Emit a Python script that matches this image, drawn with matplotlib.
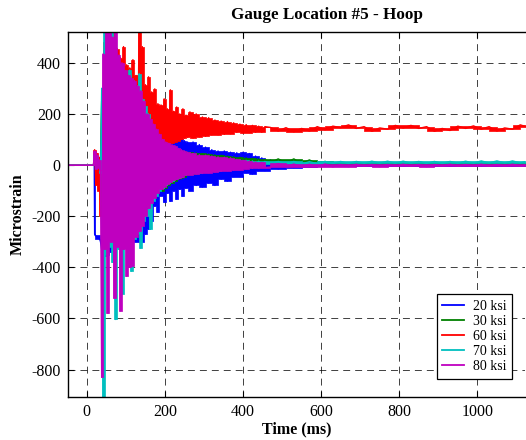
import numpy as np
import matplotlib
matplotlib.use("Agg")
import matplotlib.pyplot as plt

plt.rcParams['font.family'] = ['Liberation Serif', 'DejaVu Serif']
plt.rcParams['axes.unicode_minus'] = False
plt.rcParams['lines.scale_dashes'] = False

# ---------------- data ----------------
labels = ['20 ksi', '30 ksi', '60 ksi', '70 ksi', '80 ksi']
colors = ['#0000FF', '#008000', '#FF0000', '#00BFBF', '#BF00BF']

# early segment (explicit times, ms) -- before the main burst
t_early_blue = [-50, 19, 20, 21, 33, 35]
v_early_blue = [0, 0, -270, -275, -290, -300]
t_early_green = [-50, 20, 25, 30, 35]
v_early_green = [0, 0, 30, -40, 20]
t_early_red = [-50, 17, 20, 23, 26, 29, 32, 35]
v_early_red = [0, 0, 60, -80, 45, -100, 30, -200]
t_early_cyan = [-50, 17, 20, 23, 26, 29, 32, 35]
v_early_cyan = [0, 0, 40, -10, 30, -5, 10, -30]
t_early_mag = [-50, 17, 20, 23, 26, 29, 32, 35]
v_early_mag = [0, 0, 55, -15, 40, -10, 20, -20]

# burst segment: successive extremes every 4 ms from 38 ms
burst_blue = [-330, 200, -357, 300, -350, 350, -340, 350, -330, 320, -320, 300, -320, 280,
              -310, 260, -310, 240, -300, 220, -300, 200, -300, 180, -300, 170, -300, 150,
              -270, 140, -250, 130, -220, 120, -160, 115, -185, 112, -120, 110, -145, 110,
              -110, 108, -141, 105, -100, 110, -133, 100, -95, 100, -122, 95, -90, 90]
burst_green = [250, -250, 350, -300, 380, -280, 350, -260, 330, -250, 300, -240, 280, -230,
               260, -220, 240, -210, 220, -200, 200, -190, 180, -180, 160, -170, 140, -160,
               120, -150, 100, -130, 95, -115, 90, -105, 85, -100, 82, -100, 78, -90,
               75, -80, 70, -70, 66, -62, 62, -56, 58, -50, 55, -45, 52, -40]
burst_red = [200, -300, 480, -250, 560, -200, 520, -220, 560, -150, 455, -120, 420, -100,
             463, -60, 392, -40, 380, -20, 412, 0, 350, 10, 560, 20, 463, 30,
             314, 40, 345, 50, 286, 55, 298, 60, 240, 65, 235, 70, 259, 75,
             220, 80, 294, 85, 210, 90, 227, 95, 200, 100, 220, 105, 195, 108]
burst_cyan = [300, -950, 560, -350, 480, -320, 520, -380, 450, -604, 420, -330, 380, -506,
              360, -300, 340, -330, 372, -415, 320, -290, 300, -270, 357, -325, 260, -220,
              230, -200, 200, -250, 150, -140, 130, -120, 110, -100, 95, -90, 85, -80,
              75, -70, 68, -62, 62, -56, 56, -50, 50, -45, 46, -40, 42, -36]
burst_mag = [-830, 435, -330, 560, -580, 560, -300, 500, -520, 540, -320, 430, -570, 400,
             -330, 370, -435, 350, -400, 340, -395, 330, -280, 310, -260, 290, -240, 250,
             -200, 200, -170, 180, -150, 160, -130, 140, -110, 120, -95, 100, -85, 90,
             -75, 85, -65, 80, -60, 75, -55, 65, -50, 60, -45, 55, -40, 50]

# decay segment: successive extremes every 8 ms from 264 ms
decay_blue = [-100, 90, -80, 80, -86, 70, -70, 60, -80, 55, -55, 55, -63, 50, -45, 48,
              -45, 50, -30, 45, -35, 35, -22, 28, -22]
decay_green = [50, -36, 48, -32, 45, -28, 43, -24, 40, -20, 38, -16, 35, -12, 33, -8,
               30, -4, 28, 0, 26, 2, 24, 4, 22]
decay_red = [208, 105, 200, 110, 188, 112, 185, 118, 176, 118, 172, 120, 170, 122, 165, 128,
             160, 125, 158, 127, 155, 128, 152, 128, 150]
decay_cyan = [34, -32, 32, -30, 30, -28, 28, -25, 27, -22, 25, -19, 23, -16, 21, -12,
              19, -9, 18, -6, 16, -4, 15, -2, 14]
decay_mag = [-38, 45, -35, 40, -33, 38, -30, 35, -28, 32, -25, 30, -22, 28, -20, 22,
             -18, 18, -15, 15, -13, 12, -12, 10, -10]

# late segment: successive extremes every 20 ms from 470 ms
late_blue = [20, -15, 15, -10, 10, -6, 5, -5, 2, -4, 2, -4, 2, -4, 2, -4, 2,
             -4, 2, -4, 2, -4, 2, -4, 2, -4, 2, -4, 2, -4, 2, -4, 2, -4]
late_green = [8, 24, 8, 24, 6, 20, 4, 14, 2, 12, 2, 12, 3, 12, 3, 12, 4,
              13, 4, 13, 4, 12, 3, 12, 4, 13, 4, 13, 4, 12, 3, 12, 4, 12]
late_red = [147, 133, 146, 130, 143, 133, 150, 138, 152, 146, 157, 143, 150, 132, 145, 140, 155,
            145, 155, 143, 150, 132, 143, 135, 152, 143, 153, 140, 150, 133, 145, 140, 157, 147]
late_cyan = [4, 14, 5, 14, 4, 13, 5, 14, 6, 14, 6, 14, 7, 15, 7, 15, 7,
             15, 7, 14, 6, 14, 6, 14, 7, 15, 7, 16, 8, 16, 8, 16, 8, 16]
late_mag = [-8, 6, -7, 4, -8, 3, -6, 4, -7, 2, -6, 3, -5, 2, -6, 2, -5,
            3, -5, 2, -6, 2, -5, 3, -5, 2, -4, 3, -5, 2, -4, 3, -4, 2]

xticks = [0, 200, 400, 600, 800, 1000]
yticks = [-800, -600, -400, -200, 0, 200, 400]


def assemble(t_e, v_e, burst, decay, late):
    t = np.concatenate([np.asarray(t_e, float),
                        38 + 4 * np.arange(len(burst)),
                        264 + 8 * np.arange(len(decay)),
                        470 + 20 * np.arange(len(late))])
    v = np.concatenate([np.asarray(v_e, float), burst, decay, late])
    return t, v


series = [
    assemble(t_early_blue, v_early_blue, burst_blue, decay_blue, late_blue),
    assemble(t_early_green, v_early_green, burst_green, decay_green, late_green),
    assemble(t_early_red, v_early_red, burst_red, decay_red, late_red),
    assemble(t_early_cyan, v_early_cyan, burst_cyan, decay_cyan, late_cyan),
    assemble(t_early_mag, v_early_mag, burst_mag, decay_mag, late_mag),
]

# ---------------- figure ----------------
fig = plt.figure(figsize=(5.26, 4.40), dpi=100)
ax = fig.add_axes([0.1287, 0.0984, 0.8694, 0.830])

for i, ((t, v), c, lab) in enumerate(zip(series, colors, labels)):
    z = 3 + i
    # area swept by the trace between successive extremes
    lo = np.minimum(v[:-1], v[1:])
    hi = np.maximum(v[:-1], v[1:])
    lo = np.append(lo, lo[-1])
    hi = np.append(hi, hi[-1])
    ax.fill_between(t, lo, hi, step='post', facecolor=c, edgecolor=c, lw=0.5, zorder=z)
    ax.plot(t, v, color=c, lw=1.0, label=lab, zorder=z)

ax.set_xlim(-49, 1122)
ax.set_ylim(-906, 522)
ax.set_xticks(xticks)
ax.set_yticks(yticks)
ax.set_axisbelow(True)
ax.grid(True, color='k', lw=0.7, linestyle=(0, (5, 3.6)), alpha=0.75)
ax.tick_params(direction='in', top=True, right=False, length=4, width=0.8,
               labelsize=11.5, pad=5)
for s in ax.spines.values():
    s.set_linewidth(1.0)
    s.set_zorder(20)
ax.spines['right'].set_visible(False)

ax.set_title('Gauge Location #5 - Hoop', fontsize=12.3, fontweight='bold', pad=9, x=0.567)
ax.set_xlabel('Time (ms)', fontsize=11.5, fontweight='bold', labelpad=1)
ax.set_ylabel('Microstrain', fontsize=11.5, fontweight='bold', labelpad=4)

leg = ax.legend(loc='lower right', bbox_to_anchor=(0.9716, 0.0493), borderaxespad=0,
                fancybox=False, framealpha=1, edgecolor='k', fontsize=10,
                handlelength=1.6, handletextpad=0.6, labelspacing=0.15,
                borderpad=0.4)
leg.set_zorder(30)
leg.get_frame().set_linewidth(0.9)
for h in leg.get_lines():
    h.set_linewidth(1.3)

fig.savefig('out.png', dpi=100)
